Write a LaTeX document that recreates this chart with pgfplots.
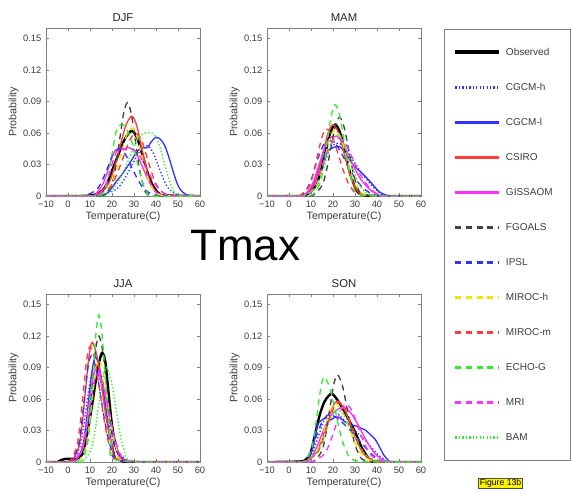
\documentclass[border=0pt]{standalone}
\usepackage{fontspec}
\setmainfont{Liberation Sans}
\usepackage{pgfplots}
\pgfplotsset{compat=1.18}

\definecolor{mblue}{RGB}{50,50,255}
\definecolor{mred}{RGB}{255,60,60}
\definecolor{mmag}{RGB}{250,50,250}
\definecolor{mgreen}{RGB}{50,235,50}
\definecolor{myel}{RGB}{240,230,0}
\definecolor{txt}{RGB}{60,60,60}

\pgfplotsset{
  panel/.style={
    scale only axis, width=115.5pt, height=126pt,
    xmin=-10, xmax=60, ymin=0, ymax=0.16,
    xtick={-10,0,10,20,30,40,50,60},
    xticklabels={−10,0,10,20,30,40,50,60},
    ytick={0,0.03,0.06,0.09,0.12,0.15},
    yticklabels={0,0.03,0.06,0.09,0.12,0.15},
    axis line style={gray, line width=0.7pt},
    tick style={gray, line width=0.5pt},
    major tick length=2pt,
    ticklabel style={font=\fontsize{7}{8}\selectfont, text=txt},
    xlabel={Temperature(C)}, ylabel={Probability},
    label style={font=\fontsize{8}{9}\selectfont, text=txt},
    xlabel style={yshift=3.5pt},
    ylabel style={yshift=-3.5pt},
    title style={font=\fontsize{8.5}{9}\selectfont, text=black!85, yshift=-4.5pt},
    every axis plot/.append style={smooth, no markers},
  },
  obs/.style={draw=black, color=black, line width=1.8pt},
  cgh/.style={draw=mblue, color=mblue, line width=1pt, dash pattern=on 1pt off 1.6pt},
  cgl/.style={draw=mblue, color=mblue, line width=1pt},
  csi/.style={draw=mred, color=mred, line width=1pt},
  gis/.style={draw=mmag, color=mmag, line width=1pt},
  fgo/.style={draw=black!75, color=black!75, line width=1pt, dash pattern=on 4.5pt off 3.5pt},
  ips/.style={draw=mblue, color=mblue, line width=1pt, dash pattern=on 4.5pt off 3.5pt},
  mih/.style={draw=myel, color=myel, line width=1pt, dash pattern=on 4.5pt off 3.5pt},
  mim/.style={draw=mred, color=mred, line width=1pt, dash pattern=on 4.5pt off 3.5pt},
  ech/.style={draw=mgreen, color=mgreen, line width=1pt, dash pattern=on 4.5pt off 3.5pt},
  mri/.style={draw=mmag, color=mmag, line width=1pt, dash pattern=on 4.5pt off 3.5pt},
  bam/.style={draw=mgreen, color=mgreen, line width=1pt, dash pattern=on 1pt off 1.6pt},
}

\begin{document}
\begin{tikzpicture}
\useasboundingbox (0,0) rectangle (428.25pt,-369.75pt);

% DJF
\begin{axis}[panel, at={(34.5pt,-147pt)}, anchor=south west, title={DJF},
  legend image code/.code={\draw[#1, line width=\pgflinewidth+0.6pt] (0pt,0pt) -- (33pt,0pt);},
  legend style={at={(axis description cs:2.584,0.994)}, anchor=north west,
    draw=gray, line width=0.6pt, font=\fontsize{7.5}{8}\selectfont, text=txt,
    inner xsep=6.75pt, inner ysep=12.75pt, row sep=17.25pt, column sep=2pt,
    cells={anchor=west}, nodes={inner sep=1.5pt, text height=5pt, text depth=1pt}}]
\addplot[obs] coordinates {(-10,0)(5,0)(11,0.0007)(14,0.003)(17,0.0084)(20,0.024)(23,0.040)(26,0.055)(29,0.062)(31.5,0.055)(34,0.038)(36.5,0.020)(39,0.0084)(41.5,0.002)(44,0.0005)(60,0)};
\addplot[cgh] coordinates {(-10,0)(10,0)(15,0.0005)(22,0.0065)(25.5,0.0156)(29,0.029)(32.5,0.042)(36,0.048)(38.5,0.042)(41,0.029)(43.5,0.0156)(46,0.0065)(51,0.0005)(60,0)};
\addplot[cgl] coordinates {(-10,0)(12,0)(15,0.0005)(18,0.003)(20,0.008)(22,0.014)(24,0.019)(26,0.025)(28,0.031)(30,0.038)(32,0.044)(34,0.046)(36,0.046)(38,0.052)(40,0.056)(42,0.054)(44,0.048)(46,0.036)(48,0.022)(50,0.010)(52,0.004)(54,0.001)(56,0)(60,0)};
\addplot[csi] coordinates {(-10,0)(8,0)(12.5,0.0008)(18,0.0103)(20.75,0.0247)(23.5,0.046)(26.25,0.067)(29,0.076)(31.25,0.067)(33.5,0.046)(35.75,0.0247)(38,0.0103)(42.5,0.0008)(60,0)};
\addplot[gis] coordinates {(-10,0)(10,0)(13,0.003)(16,0.012)(19,0.030)(21,0.042)(23,0.045)(25,0.044)(27,0.046)(29,0.045)(31,0.040)(33,0.032)(35,0.022)(37,0.013)(39,0.006)(42,0.001)(45,0)(60,0)};
\addplot[fgo] coordinates {(-10,0)(12,0)(16.5,0.001)(20,0.012)(21.75,0.029)(23.5,0.054)(25.25,0.0785)(27,0.089)(28.75,0.0785)(30.5,0.054)(32.25,0.029)(34,0.012)(37.5,0.001)(60,0)};
\addplot[ips] coordinates {(-10,0)(4,0)(8,0.0005)(13,0.006)(15.5,0.0146)(18,0.027)(20.5,0.040)(23,0.045)(26,0.040)(29,0.027)(32,0.0146)(35,0.006)(41,0.0005)(60,0)};
\addplot[mih] coordinates {(-10,0)(10,0)(14,0.0007)(19,0.0088)(21.5,0.021)(24,0.039)(26.5,0.057)(29,0.065)(31.25,0.057)(33.5,0.039)(35.75,0.021)(38,0.0088)(42.5,0.0007)(60,0)};
\addplot[mim] coordinates {(-10,0)(9,0)(13,0.0007)(19,0.008)(22,0.0195)(25,0.036)(28,0.053)(31,0.060)(33.5,0.053)(36,0.036)(38.5,0.0195)(41,0.008)(46,0.0007)(60,0)};
\addplot[ech] coordinates {(-10,0)(12,0)(14,0.0005)(16,0.003)(18,0.015)(20,0.040)(22,0.062)(24,0.068)(26,0.066)(28,0.058)(30,0.045)(32,0.028)(34,0.012)(36,0.003)(38,0)(60,0)};
\addplot[mri] coordinates {(-10,0)(12,0)(15,0.004)(18,0.015)(20,0.030)(22,0.042)(24,0.046)(26,0.044)(28,0.045)(30,0.044)(32,0.040)(34,0.033)(36,0.025)(38,0.017)(40,0.010)(42,0.005)(45,0.001)(48,0)(60,0)};
\addplot[bam] coordinates {(-10,0)(15,0)(18,0.002)(21,0.008)(24,0.018)(27,0.032)(30,0.047)(32,0.056)(35,0.060)(38,0.060)(40,0.056)(42,0.045)(44,0.030)(46,0.015)(48,0.005)(50,0.001)(52,0)(60,0)};
\legend{\makebox[40pt][l]{Observed},CGCM-h,CGCM-l,CSIRO,GISSAOM,FGOALS,IPSL,MIROC-h,MIROC-m,ECHO-G,MRI,BAM}
\end{axis}

% MAM
\begin{axis}[panel, at={(200.25pt,-147pt)}, anchor=south west, title={MAM}]
\addplot[obs] coordinates {(-10,0)(3,0)(7.5,0.0007)(12,0.0092)(14.25,0.022)(16.5,0.041)(18.75,0.060)(21,0.068)(23.25,0.060)(25.5,0.041)(27.75,0.022)(30,0.0092)(34.5,0.0007)(60,0)};
\addplot[cgh] coordinates {(-10,0)(6,0)(9,0.003)(12,0.013)(15,0.028)(18,0.042)(21,0.050)(24,0.049)(27,0.041)(30,0.031)(33,0.022)(36,0.014)(39,0.007)(42,0.002)(45,0)(60,0)};
\addplot[cgl] coordinates {(-10,0)(5,0)(8,0.002)(11,0.012)(14,0.030)(17,0.042)(20,0.046)(23,0.047)(26,0.040)(29,0.030)(32,0.024)(35,0.018)(38,0.011)(41,0.004)(44,0.001)(47,0)(60,0)};
\addplot[csi] coordinates {(-10,0)(2,0)(6.5,0.0007)(11,0.0092)(13.25,0.022)(15.5,0.041)(17.75,0.060)(20,0.068)(22.5,0.060)(25,0.041)(27.5,0.022)(30,0.0092)(35,0.0007)(60,0)};
\addplot[gis] coordinates {(-10,0)(5,0)(8,0.003)(11,0.013)(14,0.032)(17,0.050)(20,0.057)(23,0.055)(26,0.044)(29,0.030)(32,0.018)(35,0.010)(38,0.004)(41,0.001)(44,0)(60,0)};
\addplot[fgo] coordinates {(-10,0)(7,0)(11,0.0008)(15,0.010)(17,0.024)(19,0.0455)(21,0.066)(23,0.075)(25,0.066)(27,0.0455)(29,0.024)(31,0.010)(35,0.0008)(60,0)};
\addplot[ips] coordinates {(-10,0)(4,0)(7,0.003)(10,0.015)(13,0.035)(16,0.050)(18,0.053)(21,0.050)(24,0.040)(27,0.028)(30,0.017)(33,0.009)(36,0.004)(39,0.001)(42,0)(60,0)};
\addplot[mih] coordinates {(-10,0)(3,0)(7.5,0.0007)(12,0.0085)(14.25,0.020)(16.5,0.038)(18.75,0.056)(21,0.063)(23.5,0.056)(26,0.038)(28.5,0.020)(31,0.0085)(36,0.0007)(60,0)};
\addplot[mim] coordinates {(-10,0)(1,0)(5,0.0007)(9,0.0086)(11,0.021)(13,0.039)(15,0.056)(17,0.064)(19.75,0.056)(22.5,0.039)(25.25,0.021)(28,0.0086)(33.5,0.0007)(60,0)};
\addplot[ech] coordinates {(-10,0)(6,0)(10.5,0.001)(14,0.0117)(15.75,0.028)(17.5,0.053)(19.25,0.077)(21,0.087)(23,0.077)(25,0.053)(27,0.028)(29,0.0117)(33,0.001)(60,0)};
\addplot[mri] coordinates {(-10,0)(7,0)(10,0.004)(13,0.016)(16,0.034)(19,0.049)(22,0.055)(25,0.052)(28,0.040)(31,0.026)(34,0.015)(37,0.007)(40,0.002)(43,0)(60,0)};
\addplot[bam] coordinates {(-10,0)(3,0)(7,0.0006)(12,0.0078)(14.5,0.019)(17,0.035)(19.5,0.051)(22,0.058)(24.75,0.051)(27.5,0.035)(30.25,0.019)(33,0.0078)(38.5,0.0006)(60,0)};
\end{axis}

% JJA
\begin{axis}[panel, at={(34.5pt,-346.5pt)}, anchor=south west, title={JJA}]
\addplot[obs] coordinates {(-10,0)(-5,0)(-3,0.002)(-1,0.003)(2,0.003)(4,0.003)(5.5,0.005)(7,0.010)(9,0.030)(11,0.055)(13,0.082)(15,0.102)(16,0.103)(17,0.095)(18,0.075)(20,0.035)(22,0.013)(24,0.004)(26,0.001)(28,0)(60,0)};
\addplot[cgh] coordinates {(-10,0)(-2,0)(1.5,0.001)(5,0.012)(6.75,0.029)(8.5,0.055)(10.25,0.079)(12,0.09)(14.5,0.079)(17,0.055)(19.5,0.029)(22,0.012)(27,0.001)(30,0)(60,0)};
\addplot[cgl] coordinates {(-10,0)(0,0)(3.5,0.0011)(6.5,0.0135)(8,0.0325)(9.5,0.061)(11,0.088)(12.5,0.10)(14.5,0.088)(16.5,0.061)(18.5,0.0325)(20.5,0.0135)(24.5,0.0011)(60,0)};
\addplot[csi] coordinates {(-10,0)(-1,0)(2,0.0013)(5,0.0154)(6.5,0.037)(8,0.069)(9.5,0.10)(11,0.114)(13.25,0.10)(15.5,0.069)(17.75,0.037)(20,0.0154)(24.5,0.0013)(60,0)};
\addplot[gis] coordinates {(-10,0)(0,0)(3,0.001)(6.5,0.0115)(8.25,0.028)(10,0.052)(11.75,0.075)(13.5,0.085)(15.75,0.075)(18,0.052)(20.25,0.028)(22.5,0.0115)(27,0.001)(60,0)};
\addplot[fgo] coordinates {(-10,0)(2,0)(5,0.0013)(8,0.016)(9.5,0.039)(11,0.073)(12.5,0.106)(14,0.12)(15.75,0.106)(17.5,0.073)(19.25,0.039)(21,0.016)(24.5,0.0013)(60,0)};
\addplot[ips] coordinates {(-10,0)(-2,0)(1.5,0.0011)(4.5,0.0136)(6,0.033)(7.5,0.061)(9,0.089)(10.5,0.101)(12.75,0.089)(15,0.061)(17.25,0.033)(19.5,0.0136)(24,0.0011)(60,0)};
\addplot[mih] coordinates {(-10,0)(2,0)(5,0.001)(8,0.013)(9.5,0.0315)(11,0.059)(12.5,0.0855)(14,0.097)(16,0.0855)(18,0.059)(20,0.0315)(22,0.013)(26,0.001)(60,0)};
\addplot[mim] coordinates {(-10,0)(-2,0)(1,0.0012)(4,0.015)(5.5,0.036)(7,0.067)(8.5,0.097)(10,0.11)(12.25,0.097)(14.5,0.067)(16.75,0.036)(19,0.015)(23.5,0.0012)(60,0)};
\addplot[ech] coordinates {(-10,0)(4,0)(6.5,0.0015)(9,0.019)(10.25,0.0455)(11.5,0.085)(12.75,0.1235)(14,0.14)(15.4,0.1235)(16.8,0.085)(18.2,0.0455)(19.6,0.019)(22.4,0.0015)(60,0)};
\addplot[mri] coordinates {(-10,0)(-1,0)(2.5,0.001)(6,0.012)(7.75,0.029)(9.5,0.055)(11.25,0.079)(13,0.09)(15.5,0.079)(18,0.055)(20.5,0.029)(23,0.012)(28,0.001)(60,0)};
\addplot[bam] coordinates {(-10,0)(4,0)(7,0.001)(10.5,0.012)(12.25,0.029)(14,0.055)(15.75,0.079)(17.5,0.09)(19.5,0.079)(21.5,0.055)(23.5,0.029)(25.5,0.012)(29.5,0.001)(60,0)};
\end{axis}

% SON
\begin{axis}[panel, at={(200.25pt,-346.5pt)}, anchor=south west, title={SON}]
\addplot[obs] coordinates {(-10,0)(5,0.0005)(8,0.003)(10,0.010)(12,0.028)(14,0.045)(16,0.057)(18,0.063)(19.5,0.065)(21,0.062)(23,0.056)(25,0.049)(27,0.041)(29,0.033)(31,0.024)(33,0.014)(35,0.007)(37,0.002)(40,0)(60,0)};
\addplot[cgh] coordinates {(-10,0)(7,0)(10,0.006)(13,0.022)(16,0.040)(19,0.048)(22,0.046)(25,0.040)(28,0.034)(31,0.028)(34,0.022)(37,0.015)(40,0.008)(43,0.003)(46,0)(60,0)};
\addplot[cgl] coordinates {(-10,0)(6,0)(9,0.004)(11,0.015)(13,0.035)(15,0.040)(17,0.042)(19,0.040)(21,0.043)(23,0.042)(25,0.039)(27,0.036)(29,0.035)(31,0.034)(33,0.032)(35,0.030)(37,0.026)(39,0.022)(41,0.015)(43,0.007)(45,0.002)(47,0)(60,0)};
\addplot[csi] coordinates {(-10,0)(3,0)(7,0.0006)(12,0.0078)(14.5,0.019)(17,0.035)(19.5,0.051)(22,0.058)(25,0.051)(28,0.035)(31,0.019)(34,0.0078)(40,0.0006)(60,0)};
\addplot[gis] coordinates {(-10,0)(7,0)(10,0.004)(13,0.016)(16,0.032)(19,0.044)(22,0.050)(25,0.052)(28,0.047)(31,0.037)(34,0.025)(37,0.014)(40,0.006)(43,0.002)(46,0)(60,0)};
\addplot[fgo] coordinates {(-10,0)(8,0)(11.5,0.001)(15,0.011)(16.75,0.027)(18.5,0.050)(20.25,0.073)(22,0.083)(24.25,0.073)(26.5,0.050)(28.75,0.027)(31,0.011)(35.5,0.001)(60,0)};
\addplot[ips] coordinates {(-10,0)(6,0)(9,0.005)(12,0.022)(15,0.038)(18,0.045)(21,0.043)(24,0.038)(27,0.032)(30,0.025)(33,0.018)(36,0.011)(39,0.005)(42,0.001)(45,0)(60,0)};
\addplot[mih] coordinates {(-10,0)(3,0)(7.5,0.0006)(12,0.0076)(14.25,0.018)(16.5,0.034)(18.75,0.049)(21,0.056)(24,0.049)(27,0.034)(30,0.018)(33,0.0076)(39,0.0006)(60,0)};
\addplot[mim] coordinates {(-10,0)(3,0)(7.5,0.0006)(12.5,0.0077)(15,0.0185)(17.5,0.035)(20,0.050)(22.5,0.057)(25.5,0.050)(28.5,0.035)(31.5,0.0185)(34.5,0.0077)(40.5,0.0006)(60,0)};
\addplot[ech] coordinates {(-10,0)(4,0)(7,0.001)(10,0.011)(11.5,0.026)(13,0.049)(14.5,0.071)(16,0.081)(18.5,0.071)(21,0.049)(23.5,0.026)(26,0.011)(31,0.001)(60,0)};
\addplot[mri] coordinates {(-10,0)(7,0)(11,0.0006)(16,0.0074)(18.5,0.018)(21,0.033)(23.5,0.0485)(26,0.055)(28.75,0.0485)(31.5,0.033)(34.25,0.018)(37,0.0074)(42.5,0.0006)(60,0)};
\addplot[bam] coordinates {(-10,0)(3,0)(7,0.0005)(12,0.0068)(14.5,0.016)(17,0.030)(19.5,0.044)(22,0.050)(25.25,0.044)(28.5,0.030)(31.75,0.016)(35,0.0068)(41.5,0.0005)(60,0)};
\end{axis}

\node[font=\fontsize{33}{36}\selectfont, anchor=base] at (184pt,-195pt) {Tmax};
\node[fill=yellow, draw=black!70, line width=0.4pt, font=\fontsize{6.5}{7}\selectfont,
  inner xsep=1pt, inner ysep=0.8pt] at (375.4pt,-362.25pt) {Figure 13b};
\end{tikzpicture}
\end{document}
